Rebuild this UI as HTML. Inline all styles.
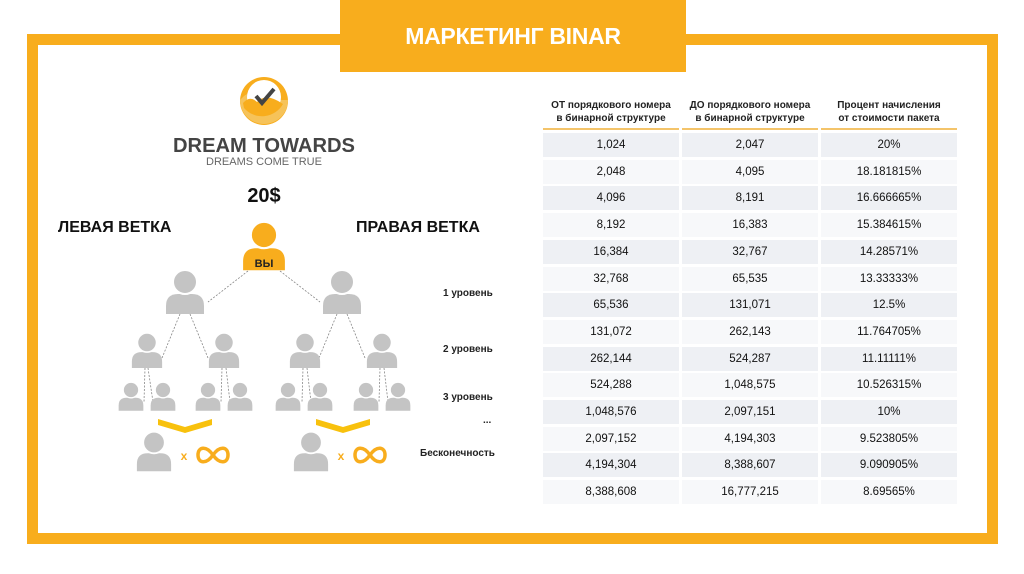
<!DOCTYPE html>
<html><head><meta charset="utf-8"><style>
body{margin:0;width:1024px;height:574px;background:#fff;position:relative;overflow:hidden;font-family:"Liberation Sans",sans-serif}
.a{position:absolute}
.fr{position:absolute;left:27px;top:34px;width:949px;height:488px;border:11px solid #f8ad1d}
.tb{position:absolute;left:340px;top:0;width:346px;height:72px;background:#f8ad1d;color:#fff;font-weight:bold;font-size:23px;line-height:72px;text-align:center;letter-spacing:-0.3px}
.h{position:absolute;top:99px;width:136px;text-align:center;font-size:10px;font-weight:bold;line-height:13px;color:#222}
.hl{position:absolute;top:128px;height:2px;width:136px;background:#f4c46a}
.c{position:absolute;width:136px;height:24px;line-height:24px;text-align:center;font-size:11.5px;color:#111}
.lv{position:absolute;font-size:10px;font-weight:bold;color:#222}
</style></head><body>
<div class="fr"></div>
<div class="tb">МАРКЕТИНГ BINAR</div>

<svg class="a" style="left:0;top:0" width="540" height="574">
<defs>
<symbol id="p" viewBox="0 0 40 44"><path d="M1 44 L1 36 Q1 24 13 24 L27 24 Q39 24 39 36 L39 44 Z"/><circle cx="20" cy="12" r="12" stroke="#fff" stroke-width="2"/></symbol>
</defs>
<circle cx="264" cy="101" r="24" fill="#f8ad1d"/>
<path d="M244 96 Q252 90 256 98 Q266 88 280 100 L288 100 A24 24 0 0 1 240 100 Z" fill="#f6c35a"/>
<circle cx="264" cy="97" r="17" fill="#fff"/>
<path d="M243 103 Q250 95 257 102 Q266 92 283 104 A24 24 0 0 1 244 108 Z" fill="#f8ad1d"/>
<path d="M256 96 L262 103 L274 89" stroke="#444" stroke-width="4" fill="none"/>
<text x="264" y="152" text-anchor="middle" font-family="Liberation Sans" font-weight="bold" font-size="20" fill="#444" textLength="182" lengthAdjust="spacingAndGlyphs">DREAM TOWARDS</text>
<text x="264" y="165" text-anchor="middle" font-family="Liberation Sans" font-size="11" fill="#666">DREAMS COME TRUE</text>
<text x="264" y="202" text-anchor="middle" font-family="Liberation Sans" font-weight="bold" font-size="20" fill="#111">20$</text>
<text x="58" y="232" font-family="Liberation Sans" font-weight="bold" font-size="16" fill="#111">ЛЕВАЯ ВЕТКА</text>
<text x="356" y="232" font-family="Liberation Sans" font-weight="bold" font-size="16" fill="#111">ПРАВАЯ ВЕТКА</text>
<g stroke="#888" stroke-width="0.8" stroke-dasharray="2,1.5" fill="none">
<path d="M248 271 L208 302 M280 271 L320 302"/>
<path d="M180 314 L162 358 M190 314 L208 358 M337 314 L319 358 M347 314 L365 358"/>
<path d="M145 368 L144 402 M148 368 L153 402 M222 368 L221 402 M226 368 L230 402 M303 368 L302 402 M307 368 L311 402 M380 368 L379 402 M384 368 L388 402"/>
</g>
<use href="#p" x="242" y="220" width="44" height="52" fill="#f8ad1d"/>
<text x="264" y="267" text-anchor="middle" font-family="Liberation Sans" font-weight="bold" font-size="11" fill="#222">ВЫ</text>
<g fill="#c4c4c4">
<use href="#p" x="165" y="270" width="40" height="44"/>
<use href="#p" x="322" y="270" width="40" height="44"/>
<use href="#p" x="131" y="333" width="32" height="35"/>
<use href="#p" x="208" y="333" width="32" height="35"/>
<use href="#p" x="289" y="333" width="32" height="35"/>
<use href="#p" x="366" y="333" width="32" height="35"/>
<use href="#p" x="118" y="382" width="26" height="29"/>
<use href="#p" x="150" y="382" width="26" height="29"/>
<use href="#p" x="195" y="382" width="26" height="29"/>
<use href="#p" x="227" y="382" width="26" height="29"/>
<use href="#p" x="275" y="382" width="26" height="29"/>
<use href="#p" x="307" y="382" width="26" height="29"/>
<use href="#p" x="353" y="382" width="26" height="29"/>
<use href="#p" x="385" y="382" width="26" height="29"/>
<use href="#p" x="136" y="431" width="36" height="41"/>
<use href="#p" x="293" y="431" width="36" height="41"/>
</g>
<path d="M158 419 L185 427 L212 419 L212 425 L185 433 L158 425 Z" fill="#f8c10d"/>
<path d="M316 419 L343 427 L370 419 L370 425 L343 433 L316 425 Z" fill="#f8c10d"/>
<text x="184" y="460" text-anchor="middle" font-family="Liberation Sans" font-weight="bold" font-size="12" fill="#f8ad1d">x</text>
<text x="341" y="460" text-anchor="middle" font-family="Liberation Sans" font-weight="bold" font-size="12" fill="#f8ad1d">x</text>
<g stroke="#f8ad1d" stroke-width="3.5" fill="none">
<path d="M213 455 C206 445 198 447 198 455 C198 463 206 465 213 455 C220 445 228 447 228 455 C228 463 220 465 213 455 Z"/>
<path d="M370 455 C363 445 355 447 355 455 C355 463 363 465 370 455 C377 445 385 447 385 455 C385 463 377 465 370 455 Z"/>
</g>
</svg>

<div class="lv" style="left:443px;top:288px">1 уровень</div>
<div class="lv" style="left:443px;top:344px">2 уровень</div>
<div class="lv" style="left:443px;top:392px">3 уровень</div>
<div class="lv" style="left:483px;top:415px">...</div>
<div class="lv" style="left:420px;top:448px">Бесконечность</div>

<div class="h" style="left:543px">ОТ порядкового номера<br>в бинарной структуре</div>
<div class="h" style="left:682px">ДО порядкового номера<br>в бинарной структуре</div>
<div class="h" style="left:821px">Процент начисления<br>от стоимости пакета</div>
<div class="hl" style="left:543px"></div><div class="hl" style="left:682px"></div><div class="hl" style="left:821px"></div>
<div id="t"></div>
<script>
var d=[["1,024","2,047","20%"],["2,048","4,095","18.181815%"],["4,096","8,191","16.666665%"],["8,192","16,383","15.384615%"],["16,384","32,767","14.28571%"],["32,768","65,535","13.33333%"],["65,536","131,071","12.5%"],["131,072","262,143","11.764705%"],["262,144","524,287","11.11111%"],["524,288","1,048,575","10.526315%"],["1,048,576","2,097,151","10%"],["2,097,152","4,194,303","9.523805%"],["4,194,304","8,388,607","9.090905%"],["8,388,608","16,777,215","8.69565%"]];
var h="",xs=[543,682,821];
d.forEach(function(r,i){var y=(133+i*26.7).toFixed(1),bg=i%2?"#f7f8fa":"#eef0f4";r.forEach(function(v,j){h+='<div class="c" style="left:'+xs[j]+'px;top:'+y+'px;background:'+bg+'">'+v+'</div>';});});
document.getElementById("t").innerHTML=h;
</script>
</body></html>
